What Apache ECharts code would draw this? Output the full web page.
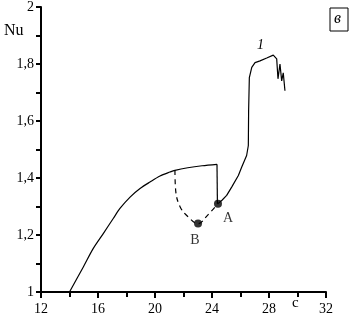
<!DOCTYPE html>
<html>
<head>
<meta charset="utf-8">
<script src="https://cdn.jsdelivr.net/npm/echarts@6/dist/echarts.min.js"></script>
<style>
  html, body { margin: 0; padding: 0; background: #fff; }
  #graph { width: 355px; height: 317px; }
</style>
</head>
<body>
<div id="graph"></div>
<script>
// solid curve, rising branch up to the top of the drop
var solidLeft = [
  [14.0, 1.0], [14.97, 1.088], [15.67, 1.153], [16.37, 1.205], [17.07, 1.258],
  [17.54, 1.293], [18.25, 1.333], [18.95, 1.363], [19.65, 1.386], [20.35, 1.407],
  [21.05, 1.421], [21.4, 1.427], [22.3, 1.436], [23.3, 1.443], [24.35, 1.448]
];
// vertical drop down to A
var drop = [[24.35, 1.448], [24.38, 1.31]];
// solid curve after A, with the jump and the noisy top
var solidRight = [
  [24.42, 1.31], [24.7, 1.322], [25.03, 1.339], [25.38, 1.368], [25.85, 1.409],
  [26.08, 1.438], [26.43, 1.479], [26.55, 1.514], [26.57, 1.636], [26.62, 1.752],
  [26.79, 1.788], [27.02, 1.805], [27.37, 1.811], [27.84, 1.821], [28.3, 1.831],
  [28.42, 1.835], [28.54, 1.818], [28.63, 1.748], [28.77, 1.8], [28.89, 1.741],
  [29.0, 1.769], [29.12, 1.706]
];
// dashed branch through B
var dashed = [
  [21.4, 1.427], [21.45, 1.357], [21.75, 1.30], [22.3, 1.265], [23.02, 1.24],
  [23.7, 1.27], [24.42, 1.31]
];
var points = [
  { name: 'A', value: [24.42, 1.31] },
  { name: 'B', value: [23.02, 1.24] }
];

var myChart = echarts.init(document.getElementById('graph'));
var font = 'Liberation Serif';
var lineStyle = { color: '#000', width: 1.2 };

var option = {
  animation: false,
  grid: { left: 41, top: 6, right: 29, bottom: 25 },
  xAxis: {
    type: 'value', min: 12, max: 32, interval: 4,
    axisLine: { lineStyle: { color: '#000', width: 2 } },
    axisTick: { length: 6, lineStyle: { color: '#000', width: 2 } },
    minorTick: { show: true, splitNumber: 2, length: 5, lineStyle: { color: '#000', width: 2 } },
    axisLabel: { color: '#000', fontFamily: font, fontSize: 14, margin: 10 },
    splitLine: { show: false }
  },
  yAxis: {
    type: 'value', min: 1, max: 2, interval: 0.2,
    axisLine: { lineStyle: { color: '#000', width: 2 } },
    axisTick: { length: 5, lineStyle: { color: '#000', width: 2 } },
    minorTick: { show: true, splitNumber: 2, length: 5, lineStyle: { color: '#000', width: 2 } },
    axisLabel: {
      color: '#000', fontFamily: font, fontSize: 14, margin: 7,
      formatter: function (v) { return String(+v.toFixed(1)).replace('.', ','); }
    },
    splitLine: { show: false }
  },
  series: [
    { type: 'line', data: solidLeft, symbol: 'none', smooth: 0.3, lineStyle: lineStyle },
    { type: 'line', data: drop, symbol: 'none', lineStyle: lineStyle },
    { type: 'line', data: solidRight, symbol: 'none', lineStyle: lineStyle },
    {
      type: 'line', data: dashed, symbol: 'none', smooth: 0.4,
      lineStyle: { color: '#000', width: 1.2, type: [5, 4] }
    },
    {
      type: 'scatter', data: points, symbolSize: 8,
      itemStyle: { color: '#000' },
      label: {
        show: true, formatter: '{b}', color: '#000', fontFamily: font, fontSize: 14,
        position: 'bottom', distance: 6
      },
      labelLayout: function (p) {
        return p.dataIndex === 0 ? { dx: 10, dy: -2 } : { dx: -3, dy: 0 };
      },
      z: 5
    }
  ],
  graphic: [
    { type: 'text', left: 4, top: 23, style: { text: 'Nu', font: '16px ' + font, fill: '#000' } },
    { type: 'text', left: 292, top: 296, style: { text: 'c', font: '15px ' + font, fill: '#000' } },
    { type: 'text', left: 257, top: 38, style: { text: '1', font: 'italic 14px ' + font, fill: '#000' } },
    { type: 'rect', shape: { x: 330, y: 8, width: 18, height: 23 },
      style: { fill: '#fff', stroke: '#000', lineWidth: 1 } },
    { type: 'text', left: 334, top: 11, style: { text: 'в', font: 'italic 16px ' + font, fill: '#000' } }
  ]
};

myChart.setOption(option);
</script>
</body>
</html>
